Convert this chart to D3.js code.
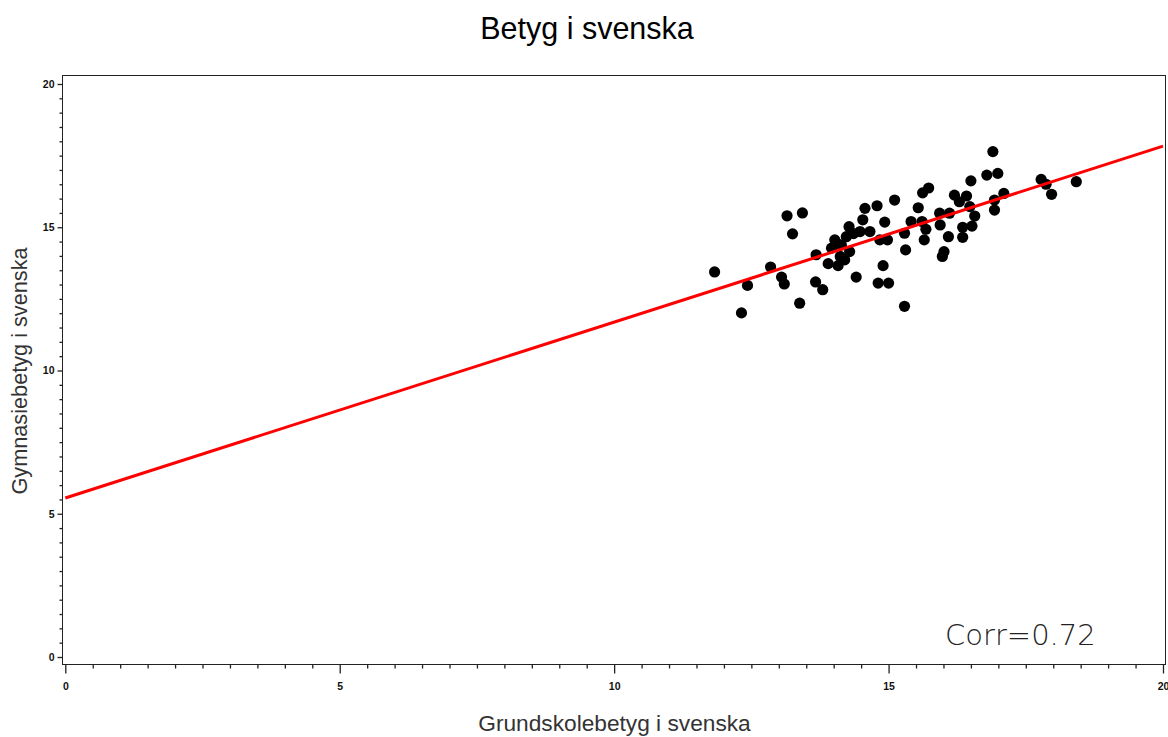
<!DOCTYPE html>
<html>
<head>
<meta charset="utf-8">
<script src="https://cdn.jsdelivr.net/npm/d3@7"></script>
<style>
  html, body { margin: 0; padding: 0; background: #fff; }
  svg { display: block; }
</style>
</head>
<body>
<svg id="chart" width="1168" height="737"></svg>
<script>
// Grade pairs: compulsory-school grade (x) vs upper-secondary grade (y)
const grundskola = [
  11.83, 12.32, 12.43, 12.85, 13.05, 13.10, 13.15, 13.25, 13.38, 13.43,
  13.68, 13.67, 13.80, 13.90, 13.96, 14.08, 14.02, 14.14, 14.20, 14.23,
  14.29, 14.28, 14.41, 14.48, 14.53, 14.57, 14.66, 14.79, 14.84, 14.81,
  14.90, 14.93, 14.98, 15.00, 15.11, 15.29, 15.31, 15.29, 15.41, 15.61,
  15.54, 15.62, 15.73, 15.68, 15.65, 15.93, 16.11, 15.94, 16.01, 15.98,
  16.09, 16.20, 16.29, 16.42, 16.48, 16.35, 16.35, 16.52, 16.57, 16.50,
  16.79, 16.90, 16.99, 16.93, 16.93, 17.10, 17.78, 17.87, 17.97, 18.42,
  14.05, 14.36, 14.12
];
const gymnasium = [
  13.44, 12.01, 12.97, 13.61, 13.26, 13.02, 15.40, 14.77, 12.35, 15.50,
  14.04, 13.09, 12.82, 13.73, 14.27, 13.66, 14.56, 14.38, 13.86, 14.67,
  14.15, 15.02, 13.26, 14.85, 15.26, 15.66, 14.85, 15.75, 14.56, 13.05,
  13.66, 15.18, 14.56, 13.05, 15.95, 12.24, 14.21, 14.79, 15.20, 15.20,
  15.68, 16.20, 16.37, 14.93, 14.56, 15.49, 15.49, 15.08, 14.15, 13.98,
  14.67, 16.12, 15.89, 16.09, 15.72, 15.00, 14.65, 15.04, 15.39, 16.62,
  16.82, 17.64, 16.88, 15.95, 15.60, 16.18, 16.67, 16.50, 16.15, 16.59,
  14.45, 14.78, 13.98
];

// Fitted regression line and correlation
const intercept = 5.55;
const slope = 0.614;
const corr = 0.72;

const majorTicks = [0, 5, 10, 15, 20];
const minorTicks = d3.range(0, 20.01, 0.5).filter(v => v % 5 !== 0);

const titleText = "Betyg i svenska";
const xLabel = "Grundskolebetyg i svenska";
const yLabel = "Gymnasiebetyg i svenska";

const svg = d3.select("#chart");

const x = d3.scaleLinear().domain([0, 20]).range([65.3, 1163]);
const y = d3.scaleLinear().domain([0, 20]).range([657, 84]);

const frame = { left: 62, top: 75, right: 1165, bottom: 664 };

// Plot frame
svg.append("rect")
  .attr("x", frame.left + 0.5).attr("y", frame.top + 0.5)
  .attr("width", frame.right - frame.left).attr("height", frame.bottom - frame.top)
  .attr("fill", "none").attr("stroke", "#222").attr("stroke-width", 1);

// Y axis (major + minor ticks)
const yMajor = svg.append("g")
  .attr("transform", `translate(${frame.left + 0.5},0)`)
  .call(d3.axisLeft(y).tickValues(majorTicks).tickSize(5).tickPadding(3).tickFormat(d3.format("d")));
const yMinor = svg.append("g")
  .attr("transform", `translate(${frame.left + 0.5},0)`)
  .call(d3.axisLeft(y).tickValues(minorTicks).tickSize(3).tickFormat(""));

// X axis (major + minor ticks)
const xMajor = svg.append("g")
  .attr("transform", `translate(0,${frame.bottom + 0.5})`)
  .call(d3.axisBottom(x).tickValues(majorTicks).tickSize(9).tickPadding(9).tickFormat(d3.format("d")));
const xMinor = svg.append("g")
  .attr("transform", `translate(0,${frame.bottom + 0.5})`)
  .call(d3.axisBottom(x).tickValues(minorTicks).tickSize(4).tickFormat(""));

[yMajor, yMinor, xMajor, xMinor].forEach(g => {
  g.select(".domain").remove();
  g.selectAll(".tick line").attr("stroke", "#222").attr("stroke-width", 1.3);
  g.selectAll(".tick text")
    .attr("fill", "#111")
    .style("font-family", "'Liberation Sans', Arial, sans-serif")
    .style("font-size", "10.5px")
    .style("font-weight", "bold");
});

// Scatter points
const pts = grundskola.map((g, i) => ({ g, s: gymnasium[i] }));
svg.append("g").selectAll("circle")
  .data(pts).join("circle")
  .attr("cx", d => x(d.g)).attr("cy", d => y(d.s))
  .attr("r", 5.6).attr("fill", "#000");

// Regression line
svg.append("line")
  .attr("x1", x(0)).attr("y1", y(intercept))
  .attr("x2", x(20)).attr("y2", y(intercept + slope * 20))
  .attr("stroke", "#ff0000").attr("stroke-width", 3);

// Correlation annotation
svg.append("text")
  .attr("x", 945).attr("y", 645)
  .attr("fill", "#222")
  .style("font-family", "'DejaVu Sans', sans-serif")
  .style("font-size", "29px")
  .style("font-weight", 200)
  .text("Corr=" + corr.toFixed(2));

// Title and axis labels
svg.append("text")
  .attr("x", 587).attr("y", 39).attr("text-anchor", "middle")
  .attr("fill", "#000")
  .style("font-family", "'Liberation Sans', Arial, sans-serif")
  .style("font-size", "30.5px")
  .text(titleText);

svg.append("text")
  .attr("x", 614.5).attr("y", 731).attr("text-anchor", "middle")
  .attr("fill", "#333")
  .style("font-family", "'Liberation Sans', Arial, sans-serif")
  .style("font-size", "22.7px")
  .text(xLabel);

svg.append("text")
  .attr("transform", "translate(27,371) rotate(-90)")
  .attr("text-anchor", "middle")
  .attr("fill", "#333")
  .style("font-family", "'Liberation Sans', Arial, sans-serif")
  .style("font-size", "21.7px")
  .text(yLabel);
</script>
</body>
</html>
